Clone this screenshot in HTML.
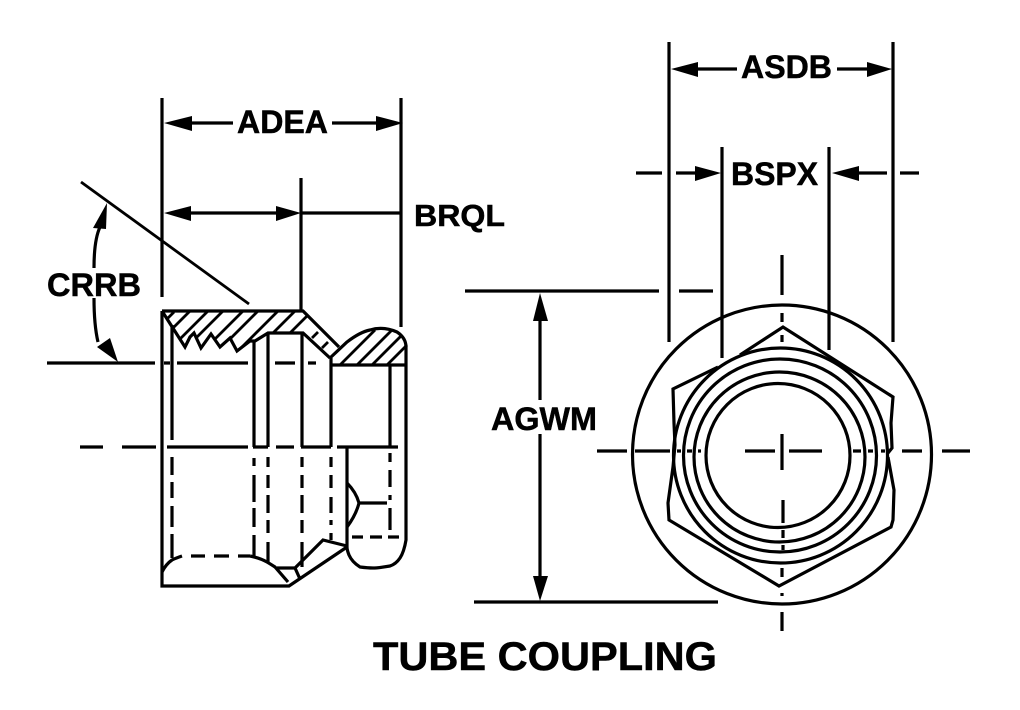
<!DOCTYPE html>
<html><head><meta charset="utf-8"><style>html,body{margin:0;padding:0;background:#fff}svg{display:block}text{font-family:"Liberation Sans",Arial,sans-serif;font-weight:bold;fill:#000;stroke:#000;stroke-width:.5}</style></head>
<body>
<svg width="1020" height="710" viewBox="0 0 1020 710" xmlns="http://www.w3.org/2000/svg">
<defs>
<clipPath id="c1"><polygon points="162,311 303,311 339,347 330,358 303,333 268,333 255,341 250,341 237,351 230,338 220,347 211,334 201,348 194,333 190,337 185,347"/></clipPath>
<clipPath id="c2"><path d="M330,365 L330,358 L347,342 Q360,332 370,330 Q383,326 397,332 Q406,338 406,347 L406,365 Z"/></clipPath>
</defs>
<g fill="none" stroke="#000" stroke-width="3.2">
<!-- dimension lines left -->
<path d="M162,98V297M401,98V327M301,178V311"/>
<path d="M188,123H233M332,123H380M188,213H280M301,213H401"/>
<path d="M81,182L249,304" stroke-width="2.8"/>
<path d="M47,363H155M164,363H170M177,363H248M275,363H295M308,363H316"/>
<path d="M80,447H103M122,447H156M167,447H248M253,447H268M276,447H294M301,447H331M337,447H398"/>
<path d="M100,227Q94,240 94,268M94,298Q94,325 98,342"/>
<!-- body -->
<path d="M162,311H303L339,347M406,345V540Q404,552 400,558Q396,564 390,566Q378,568 373,568Q368,568 360,567Q352,562 349,555Q347,550 347,547"/>
<path d="M162,311V586H289L347,547M347,447V547"/>
<path d="M172,325V440M254,341V447M268,333V447M302,333V447M331,358V447M390,365V447"/>
<path d="M162,311L185,347L190,337L194,333L201,348L211,334L220,347L230,338L237,351L250,341H255L268,333H303L330,358"/>
<path d="M330,358L347,342Q360,332 370,330Q383,326 397,332Q406,338 406,347M330,365H406"/>
<g clip-path="url(#c1)" stroke-width="2.8">
<path d="M174,312L140,346M190,311L150,351M208,311L160,359M223,311L170,364M243,311L190,364M258,311L205,364M278,311L225,364M295,311L242,364M312,311L262,361"/>
</g>
<path d="M312,338L318,332M322,348L328,342" stroke-width="2.8"/>
<g clip-path="url(#c2)" stroke-width="2.8">
<path d="M340,365L375,330M357,365L392,330M372,365L407,330M387,365L422,330"/>
</g>
<!-- dashed lower -->
<path d="M172,457V475M172,482V498M172,506V527M172,534V558"/>
<path d="M254,458V466M254,475V502M254,508V527M254,535V557"/>
<path d="M268,457V467M268,475V488M268,495V513M268,520V533M268,542V562"/>
<path d="M302,457V467M302,475V488M302,495V513M302,520V533M302,542V567"/>
<path d="M331,457V467M331,475V488M331,497V513M331,520V525M331,533V540"/>
<path d="M390,453V462M390,470V487M390,495V500M390,508V530"/>
<path d="M352,537H363M370,537H382M388,537H399"/>
<path d="M162,572Q166,564 172,560Q176,558 182,556M191,556H205M214,556H229M238,556H250M250,556Q260,558 267,562Q272,565 275,567L288,582"/>
<path d="M277,568H295L300,579M295,568L323,540L347,546"/>
<path d="M347,483Q356,492 359,503Q356,515 347,527M359,503H387"/>
<!-- dims right -->
<path d="M669,42V342M893,42V342M722,147V358M829,147V350"/>
<path d="M697,69H737M837,69H868M636,173H662M676,173H697M858,173H887M900,173H919"/>
<path d="M465,291H659M679,291H713M474,602H718M540,318V400M540,434V578"/>
<!-- end view -->
<circle cx="782" cy="454.5" r="149.5"/>
<ellipse cx="778" cy="455.5" rx="72" ry="72"/>
<ellipse cx="779.5" cy="457" rx="85.5" ry="85"/>
<ellipse cx="780" cy="455.5" rx="96.5" ry="96.5"/>
<ellipse cx="780.5" cy="455.5" rx="107" ry="107.5"/>
<path d="M740,355L783,327L893,397L891,423L892,448L888,453M888,457L894,490L893,520L891,527L779,586L669,520L668,503L673,467M673,467L675,445L674,423L673,389L718,367"/>
<path d="M597,451H627M635,451H670M677,451H681M687,451H692M698,451H701M745,451H775M789,451H822M853,451H861M868,451H873M881,451H885M902,451H922M942,451H970"/>
<path d="M782,255V295M782,313V322M782,335V342M782,434V470M783,500V523M783,530V538M783,545V550M782,568V577M782,593V596M782,612V631"/>
</g>
<g fill="#000" stroke="none">
<polygon points="164,123 192,116 192,131"/><polygon points="403,123 376,116 376,131"/>
<polygon points="164,213 191,206 191,221"/><polygon points="301,213 276,206 276,221"/>
<polygon points="107,203 93,228 106,229"/><polygon points="118,362 97,347 110,338"/>
<polygon points="671,69 698,62 698,77"/><polygon points="892,69 867,62 867,77"/>
<polygon points="721,173 695,166 695,181"/><polygon points="832,173 859,166 859,181"/>
<polygon points="540,293 533,321 548,321"/><polygon points="540,601 533,576 548,576"/>
</g>
<text x="237" y="133" font-size="32" textLength="91" lengthAdjust="spacingAndGlyphs">ADEA</text>
<text x="414" y="226" font-size="31" textLength="91" lengthAdjust="spacingAndGlyphs">BRQL</text>
<text x="47" y="296" font-size="32" textLength="94" lengthAdjust="spacingAndGlyphs">CRRB</text>
<text x="741" y="78" font-size="32" textLength="91" lengthAdjust="spacingAndGlyphs">ASDB</text>
<text x="731" y="185" font-size="32" textLength="87" lengthAdjust="spacingAndGlyphs">BSPX</text>
<text x="491" y="430" font-size="32" textLength="106" lengthAdjust="spacingAndGlyphs">AGWM</text>
<text x="373" y="670" font-size="40" textLength="344" lengthAdjust="spacingAndGlyphs">TUBE COUPLING</text>
</svg>
</body></html>
